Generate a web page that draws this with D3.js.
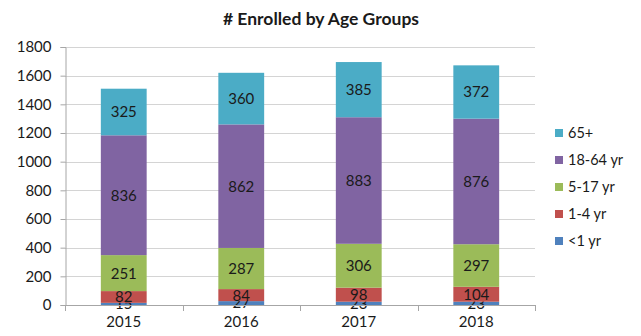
<!DOCTYPE html>
<html>
<head>
<meta charset="utf-8">
<script src="https://cdn.jsdelivr.net/npm/d3@7/dist/d3.min.js"></script>
<style>
  html, body { margin: 0; padding: 0; background: #fff; }
  svg { display: block; font-family: Lato, "Open Sans", sans-serif; }
</style>
</head>
<body>
<svg id="chart" width="641" height="336"></svg>
<script>
// Enrollment counts by year, split into age groups (bottom to top of each stack)
const years = ["2015", "2016", "2017", "2018"];
const groups = ["<1 yr", "1-4 yr", "5-17 yr", "18-64 yr", "65+"];
const under1 = [15, 27, 23, 23];
const age1to4 = [82, 84, 98, 104];
const age5to17 = [251, 287, 306, 297];
const age18to64 = [836, 862, 883, 876];
const age65plus = [325, 360, 385, 372];
const yTicks = [0, 200, 400, 600, 800, 1000, 1200, 1400, 1600, 1800];
const colors = ["#4F81BD", "#C0504D", "#9BBB59", "#8064A2", "#4BACC6"];

const seriesValues = [under1, age1to4, age5to17, age18to64, age65plus];
const rows = years.map((yr, i) => {
  const r = { year: yr };
  groups.forEach((g, k) => { r[g] = seriesValues[k][i]; });
  return r;
});

const svg = d3.select("#chart");
const plot = { left: 65, right: 535, top: 47, bottom: 305 };
const FONT = "Lato, 'Open Sans', sans-serif";

const x = d3.scaleBand().domain(years).range([plot.left, plot.right]).paddingInner(0.61).paddingOuter(0.305);
const y = d3.scaleLinear().domain([0, 1800]).range([plot.bottom, plot.top]);

// Title
svg.append("text")
  .attr("x", 321).attr("y", 25)
  .attr("text-anchor", "middle")
  .attr("font-size", 17.5).attr("font-weight", "bold").attr("fill", "#1a1a1a")
  .text("# Enrolled by Age Groups");

// Horizontal gridlines
svg.append("g").selectAll("line").data(yTicks.filter(d => d > 0)).join("line")
  .attr("x1", plot.left).attr("x2", plot.right)
  .attr("y1", d => Math.round(y(d)) + 0.5).attr("y2", d => Math.round(y(d)) + 0.5)
  .attr("stroke", "#d4d4d4").attr("stroke-width", 1);

// Y axis
const yAxis = svg.append("g").attr("transform", `translate(${plot.left + 0.5},0)`)
  .call(d3.axisLeft(y).tickValues(yTicks).tickSize(5).tickPadding(9).tickFormat(d3.format("d")));
yAxis.select(".domain").attr("stroke", "#a6a6a6");
yAxis.selectAll(".tick line").attr("stroke", "#a6a6a6");
yAxis.selectAll("text").attr("font-size", 15).attr("fill", "#1a1a1a").attr("font-family", FONT);

// Stacked bars
const stacked = d3.stack().keys(groups)(rows);
const layer = svg.append("g").selectAll("g").data(stacked).join("g")
  .attr("fill", (d, i) => colors[i]);
layer.selectAll("rect").data(d => d).join("rect")
  .attr("x", d => x(d.data.year))
  .attr("width", x.bandwidth())
  .attr("y", d => y(d[1]))
  .attr("height", d => y(d[0]) - y(d[1]));

// X axis
const xAxis = svg.append("g").attr("transform", `translate(0,${plot.bottom + 0.5})`)
  .call(d3.axisBottom(x).tickSize(0).tickPadding(11));
xAxis.select(".domain").attr("stroke", "#a6a6a6").attr("d", `M${plot.left},0H${plot.right}`);
xAxis.selectAll("text").attr("font-size", 15).attr("fill", "#1a1a1a").attr("font-family", FONT);
// category separators below the axis
const seps = d3.range(years.length + 1).map(i => plot.left + i * (plot.right - plot.left) / years.length);
svg.append("g").selectAll("line").data(seps).join("line")
  .attr("x1", d => Math.round(d) + 0.5).attr("x2", d => Math.round(d) + 0.5)
  .attr("y1", plot.bottom).attr("y2", plot.bottom + 6)
  .attr("stroke", "#a6a6a6");

// Data labels centred in each segment
layer.selectAll("text").data(d => d.map(p => ({ p, key: d.key }))).join("text")
  .attr("x", d => x(d.p.data.year) + x.bandwidth() / 2)
  .attr("y", d => (y(d.p[0]) + y(d.p[1])) / 2)
  .attr("dy", "0.36em")
  .attr("text-anchor", "middle")
  .attr("font-size", 15).attr("fill", "#1a1a1a")
  .text(d => d.p.data[d.key]);

// Legend (top entry is the top stack segment)
const legendItems = groups.slice().reverse();
const legend = svg.append("g").selectAll("g").data(legendItems).join("g")
  .attr("transform", (d, i) => `translate(555,${133 + i * 27})`);
legend.append("rect").attr("x", 0).attr("y", -4).attr("width", 8).attr("height", 8)
  .attr("fill", d => colors[groups.indexOf(d)]);
legend.append("text").attr("x", 13).attr("y", 0).attr("dy", "0.36em")
  .attr("font-size", 14.5).attr("fill", "#1a1a1a")
  .text(d => d);
</script>
</body>
</html>
